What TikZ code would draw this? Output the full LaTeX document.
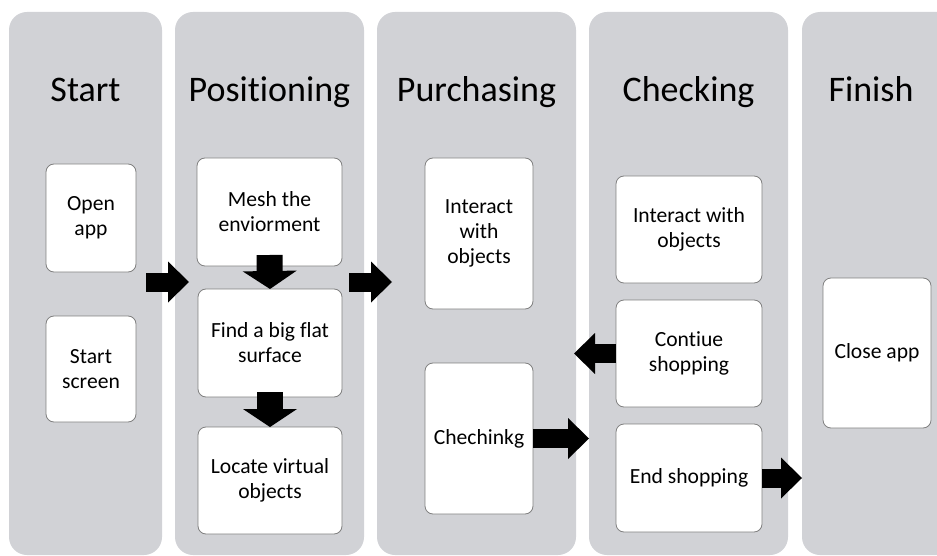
\documentclass[tikz,border=0pt]{standalone}
\usepackage{fontspec}
\setmainfont{Carlito}[Ligatures=NoCommon]
\usetikzlibrary{arrows.meta}

\definecolor{lanegrey}{RGB}{209,210,214}
\definecolor{boxedge}{RGB}{128,128,128}

\begin{document}
\begin{tikzpicture}[x=1pt,y=-1pt,
  lane/.style={fill=lanegrey, rounded corners=18pt, inner sep=0pt, outer sep=0pt,
               minimum height=543pt},
  lanetitle/.style={anchor=base, inner sep=0pt, font=\fontsize{36}{40}\selectfont},
  stepbox/.style={draw=boxedge, line width=0.8pt, fill=white, rounded corners=8pt,
                  align=center, inner sep=0pt, outer sep=0pt,
                  font=\fontsize{21.6}{25}\selectfont},
  flow/.style={line width=19pt, -{Triangle[length=21pt, width=41pt, line width=0pt]}},
  downflow/.style={line width=26pt, -{Triangle[length=18pt, width=54pt, line width=0pt]}},
]
\useasboundingbox (0,0) rectangle (937,556);
\clip (0,0) rectangle (937,556);

% swim lanes
\node[lane, minimum width=153pt] (pstart) at (85.5,283.5) {};
\node[lane, minimum width=189pt] (ppos)   at (269.5,283.5) {};
\node[lane, minimum width=199pt] (ppur)   at (476.5,283.5) {};
\node[lane, minimum width=199pt] (pchk)   at (688.5,283.5) {};
\node[lane, minimum width=170pt] (pfin)   at (887,283.5) {};

% lane titles
\node[lanetitle] (tstart) at (85.5,102) {Start};
\node[lanetitle] (tpos)   at (269.5,102) {Positioning};
\node[lanetitle] (tpur)   at (476.5,102) {Purchasing};
\node[lanetitle] (tchk)   at (688.5,102) {Checking};
\node[lanetitle] (tfin)   at (871,102) {Finish};

% steps
\node[stepbox, minimum width=90pt,  minimum height=108pt] (open)    at (91,218)    {Open\\app};
\node[stepbox, minimum width=90pt,  minimum height=106pt] (sscreen) at (91,369)    {Start\\screen};
\node[stepbox, minimum width=145pt, minimum height=108pt] (mesh)    at (269.5,212) {Mesh the\\enviorment};
\node[stepbox, minimum width=144pt, minimum height=108pt] (find)    at (270,343)   {Find a big flat\\surface};
\node[stepbox, minimum width=144pt, minimum height=107pt] (locate)  at (270,480.5) {Locate virtual\\objects};
\node[stepbox, minimum width=108pt, minimum height=151pt] (pint)    at (479,233.5) {Interact\\with\\objects};
\node[stepbox, minimum width=108pt, minimum height=151pt] (chk)     at (479,438.5) {Chechinkg};
\node[stepbox, minimum width=146pt, minimum height=107pt] (cint)    at (689,229.5) {Interact with\\objects};
\node[stepbox, minimum width=146pt, minimum height=107pt] (cont)    at (689,353.5) {Contiue\\shopping};
\node[stepbox, minimum width=146pt, minimum height=108pt] (endb)    at (689,478)   {End shopping};
\node[stepbox, minimum width=108pt, minimum height=150pt] (close)   at (877,353)   {Close app};

% block arrows
\coordinate (a1s) at (146,282);
\coordinate (a1e) at (189,282);
\coordinate (a2s) at (349,282);
\coordinate (a2e) at (392,282);
\draw[flow] (a1s) -- (a1e);
\draw[flow] (a2s) -- (a2e);
\draw[downflow] ([yshift=11pt]mesh.south) -- (find.north);
\draw[downflow] ([yshift=5pt]find.south) -- (locate.north);
\draw[flow] (chk.east) -- (chk.east -| pchk.west);
\draw[flow] (cont.west) -- ([xshift=-2pt]cont.west -| ppur.east);
\draw[flow] (endb.east) -- (endb.east -| pfin.west);
\end{tikzpicture}
\end{document}
